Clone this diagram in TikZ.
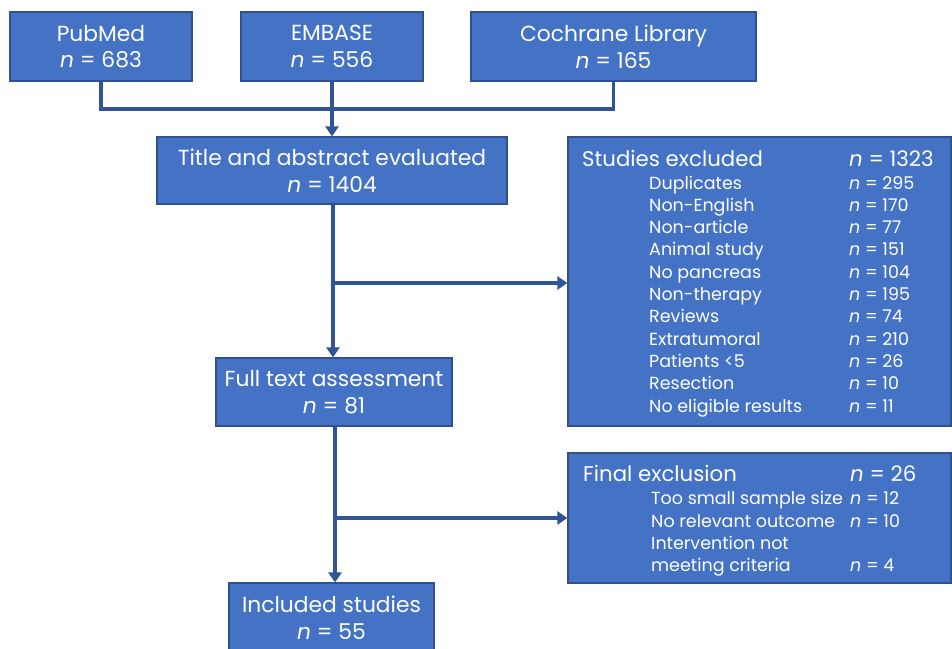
\documentclass[tikz,border=0pt]{standalone}
\usepackage{fontspec}
\setmainfont{Poppins}
\usetikzlibrary{arrows.meta}
\definecolor{boxfill}{HTML}{4472C4}
\definecolor{boxline}{HTML}{2F528F}
\definecolor{connc}{HTML}{2F5597}
\begin{document}
\begin{tikzpicture}[x=1pt,y=-1pt,
  box/.style={draw=boxline,line width=1.2pt,fill=boxfill,text=white,inner sep=0pt,align=center,font=\fontsize{21.8}{26.5}\selectfont},
  conn/.style={draw=connc,line width=3.5pt,line join=miter},
  arr/.style={conn,-{Triangle[length=10pt,width=13pt]}},
  hdr/.style={text=white,anchor=base west,inner sep=0pt,font=\fontsize{21.3}{22}\selectfont},
  sub/.style={text=white,anchor=base west,inner sep=0pt,font=\fontsize{17.5}{20}\selectfont}]
\useasboundingbox (0,0) rectangle (952,648);
\clip (0,0) rectangle (952,648);
% boxes
\node[box,minimum width=182pt,minimum height=69pt] (pub) at (101,46.5) {PubMed\\\textit{n} = 683};
\node[box,minimum width=182pt,minimum height=69pt] (emb) at (332,46.5) {EMBASE\\\textit{n} = 556};
\node[box,minimum width=285pt,minimum height=69pt] (coch) at (613.5,46.5) {Cochrane Library\\\textit{n} = 165};
\node[box,minimum width=350pt,minimum height=67pt] (title) at (332,170.5) {Title and abstract evaluated\\\textit{n} = 1404};
\node[box,minimum width=383pt,minimum height=289pt] (exa) at (759.5,281.5) {};
\node[box,minimum width=236pt,minimum height=68pt] (full) at (334,392) {Full text assessment\\\textit{n} = 81};
\node[box,minimum width=383pt,minimum height=130pt] (exb) at (759.5,518) {};
\node[box,minimum width=205pt,minimum height=69pt] (incl) at (331.5,617.5) {Included studies\\\textit{n} = 55};
% connectors
\coordinate (m) at (332,109);
\coordinate (b1) at (333,283);
\coordinate (b2) at (335,518);
\draw[conn] (pub.south) |- (m) -| (coch.south);
\draw[arr] (emb.south) -- (emb.south |- title.north);
\draw[arr] (title.south -| b1) -- (b1 |- full.north);
\draw[arr] (b1) -- (b1 -| exa.west);
\draw[arr] (full.south -| b2) -- (b2 |- incl.north);
\draw[arr] (b2) -- (b2 -| exb.west);
% exclusion text 1
\node[hdr] (exah) at (582,166) {Studies excluded};
\node[hdr] (exan) at (849,166) {\textit{n} = 1323};
\foreach \lab/\num [count=\i] in {Duplicates/295,Non-English/170,Non-article/77,Animal study/151,No pancreas/104,Non-therapy/195,Reviews/74,Extratumoral/210,Patients <5/26,Resection/10,No eligible results/11}{
  \node[sub] (exal\i) at (649,166.7+22.3*\i) {\lab};
  \node[sub] (exav\i) at (849,166.7+22.3*\i) {\textit{n} = \num};
}
% exclusion text 2
\node[hdr] (exbh) at (583,481) {Final exclusion};
\node[hdr] (exbn) at (850,481) {\textit{n} = 26};
\node[sub] (exbl1) at (651,504) {Too small sample size};
\node[sub] (exbv1) at (850,504) {\textit{n} = 12};
\node[sub] (exbl2) at (651,527) {No relevant outcome};
\node[sub] (exbv2) at (850,527) {\textit{n} = 10};
\node[sub] (exbl3) at (651,549) {Intervention not};
\node[sub] (exbl4) at (651,571) {meeting criteria};
\node[sub] (exbv4) at (850,571) {\textit{n} = 4};
\end{tikzpicture}
\end{document}
